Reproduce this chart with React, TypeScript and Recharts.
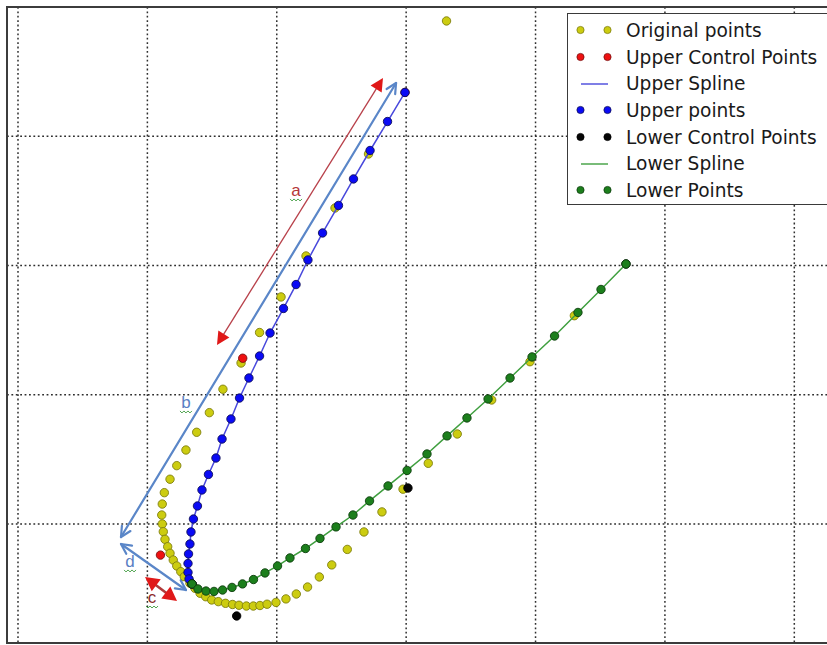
import {
  CartesianGrid,
  Legend,
  ReferenceArea,
  ReferenceDot,
  ReferenceLine,
  Scatter,
  ScatterChart,
  XAxis,
  YAxis,
} from 'recharts'

// one dotted grid cell = 1 unit
const xDomain: [number, number] = [-0.085, 6.5]
const yDomain: [number, number] = [-0.92, 4]
const xTicks = [0, 1, 2, 3, 4, 5, 6]
const yTicks = [0, 1, 2, 3, 4]

const originalPoints = [
  [3.312, 3.892], [2.709, 2.863], [2.45, 2.445], [2.226, 2.074], [2.033, 1.757],
  [1.867, 1.482], [1.724, 1.246], [1.584, 1.043], [1.479, 0.862], [1.381, 0.71],
  [1.298, 0.573], [1.227, 0.452], [1.175, 0.347], [1.131, 0.243], [1.115, 0.155],
  [1.111, 0.07], [1.115, 0.001], [1.123, -0.059], [1.136, -0.118], [1.157, -0.175],
  [1.175, -0.226], [1.2, -0.278], [1.227, -0.324], [1.258, -0.368], [1.285, -0.407],
  [1.329, -0.458], [1.368, -0.497], [1.407, -0.535], [1.451, -0.562], [1.497, -0.587],
  [1.548, -0.6], [1.604, -0.613], [1.658, -0.622], [1.708, -0.628], [1.765, -0.634],
  [1.819, -0.634], [1.87, -0.63], [1.925, -0.62], [1.994, -0.606], [2.071, -0.579],
  [2.151, -0.541], [2.238, -0.487], [2.329, -0.409], [2.425, -0.316], [2.545, -0.196],
  [2.674, -0.061], [2.813, 0.094], [2.976, 0.27], [3.171, 0.47], [3.395, 0.697],
  [3.661, 0.96], [3.957, 1.256], [4.3, 1.612],
]

const upperControlPoints = [
  [2.991, 3.339], [1.737, 1.283], [1.101, -0.24], [1.345, -0.463],
]

const upperPoints = [
  [2.991, 3.339], [2.856, 3.114], [2.721, 2.89], [2.593, 2.67], [2.477, 2.465],
  [2.354, 2.252], [2.241, 2.043], [2.149, 1.853], [2.052, 1.668], [1.948, 1.478],
  [1.867, 1.3], [1.785, 1.13], [1.712, 0.975], [1.646, 0.813], [1.577, 0.658],
  [1.53, 0.511], [1.472, 0.384], [1.422, 0.264], [1.387, 0.14], [1.356, 0.039],
  [1.337, -0.061], [1.329, -0.154], [1.318, -0.231], [1.314, -0.305], [1.314, -0.374],
  [1.322, -0.425], [1.345, -0.463],
]

const lowerControlPoints = [
  [1.345, -0.463], [1.69, -0.711], [3.014, 0.279], [4.699, 2.012],
]

const lowerPoints = [
  [1.345, -0.463], [1.391, -0.502], [1.453, -0.518], [1.515, -0.521], [1.581, -0.51],
  [1.654, -0.49], [1.735, -0.463], [1.82, -0.429], [1.909, -0.378], [2.006, -0.324],
  [2.102, -0.262], [2.222, -0.189], [2.334, -0.111], [2.458, -0.022], [2.589, 0.07],
  [2.717, 0.179], [2.86, 0.295], [3.007, 0.415], [3.161, 0.542], [3.316, 0.682],
  [3.47, 0.821], [3.633, 0.968], [3.803, 1.13], [3.973, 1.293], [4.147, 1.455],
  [4.328, 1.637], [4.506, 1.815], [4.699, 2.012],
]

// hand-drawn measurement arrows laid over the plot
const arrowNames = ['a', 'b', 'c', 'd']
const arrowStarts = [[1.538, 1.385], [0.796, -0.1], [0.982, -0.409], [0.796, -0.154]]
const arrowEnds = [[2.821, 3.451], [2.922, 3.412], [1.229, -0.595], [1.298, -0.51]]
const arrowLabelAt = [[2.149, 2.577], [1.298, 0.937], [1.036, -0.572], [0.866, -0.293]]

const toXY = (pts: number[][]) => pts.map(([x, y]) => ({ x, y }))

const arrowStyles = [
  { line: '#b8404a', width: 1.3, head: 'filled', headColor: '#e01818', len: 13, half: 6.5, text: '#b5383a' },
  { line: '#5a86c8', width: 2.2, head: 'open', headColor: '#5a86c8', len: 10, half: 5, text: '#5b7fc4' },
  { line: '#b03a3a', width: 2.6, head: 'filled', headColor: '#e01818', len: 14, half: 7.5, text: '#8b2a2a' },
  { line: '#5a86c8', width: 2.2, head: 'open', headColor: '#5a86c8', len: 10, half: 5, text: '#5b7fc4' },
]

const series = [
  { name: 'Original points', data: originalPoints, kind: 'dot', fill: '#cccc10', edge: '#7f7f10' },
  { name: 'Upper Control Points', data: upperControlPoints, kind: 'dot', fill: '#ee1111', edge: '#7a1010' },
  { name: 'Upper Spline', data: upperPoints, kind: 'line', fill: '#4848dc', edge: '#4848dc' },
  { name: 'Upper points', data: upperPoints, kind: 'dot', fill: '#0a0af5', edge: '#10105a' },
  { name: 'Lower Control Points', data: lowerControlPoints, kind: 'dot', fill: '#050505', edge: '#000' },
  { name: 'Lower Spline', data: lowerPoints, kind: 'line', fill: '#3f9f3f', edge: '#3f9f3f' },
  { name: 'Lower Points', data: lowerPoints, kind: 'dot', fill: '#1c7f1c', edge: '#0e3e0e' },
]

function arrowShape(style: (typeof arrowStyles)[number]) {
  return (p: any) => {
    const { x1, y1, x2, y2 } = p
    const len = Math.hypot(x2 - x1, y2 - y1) || 1
    const ux = (x2 - x1) / len
    const uy = (y2 - y1) / len
    const nx = -uy
    const ny = ux
    const tip = (tx: number, ty: number, dir: number) => {
      const bx = tx - dir * ux * style.len
      const by = ty - dir * uy * style.len
      return [
        [bx + nx * style.half, by + ny * style.half],
        [tx, ty],
        [bx - nx * style.half, by - ny * style.half],
      ]
    }
    const h1 = tip(x1, y1, -1)
    const h2 = tip(x2, y2, 1)
    const pts = (h: number[][]) => h.map((q) => q.join(',')).join(' ')
    if (style.head === 'filled') {
      const sx = x1 + ux * style.len * 0.8
      const sy = y1 + uy * style.len * 0.8
      const ex = x2 - ux * style.len * 0.8
      const ey = y2 - uy * style.len * 0.8
      return (
        <g>
          <line x1={sx} y1={sy} x2={ex} y2={ey} stroke={style.line} strokeWidth={style.width} />
          <polygon points={pts(h1)} fill={style.headColor} />
          <polygon points={pts(h2)} fill={style.headColor} />
        </g>
      )
    }
    return (
      <g fill="none" stroke={style.line} strokeWidth={style.width} strokeLinecap="round" strokeLinejoin="round">
        <line x1={x1} y1={y1} x2={x2} y2={y2} />
        <polyline points={pts(h1)} />
        <polyline points={pts(h2)} />
      </g>
    )
  }
}

function labelShape(text: string, color: string) {
  return (p: any) => {
    const { cx, cy } = p
    const w = `M${cx - 6},${cy + 8} l2,2 l2,-2 l2,2 l2,-2 l2,2 l2,-2`
    return (
      <g>
        <text x={cx} y={cy + 5} textAnchor="middle" fill={color} fontSize={17} fontFamily="'Liberation Sans', sans-serif">
          {text}
        </text>
        <path d={w} fill="none" stroke="#3a9a3a" strokeWidth={0.9} />
      </g>
    )
  }
}

function LegendBox() {
  return (
    <div
      style={{
        boxSizing: 'border-box',
        width: 262,
        height: 192,
        border: '1.5px solid #3a3a3a',
        background: '#fff',
        paddingTop: 3,
        fontFamily: "'DejaVu Sans', sans-serif",
        fontSize: 18.6,
        color: '#1a1a1a',
      }}
    >
      {series.map((s) => (
        <div key={s.name} style={{ height: 26.7, display: 'flex', alignItems: 'center', whiteSpace: 'nowrap' }}>
          <svg width={58} height={26} style={{ flex: 'none' }}>
            {s.kind === 'line' ? (
              <line x1={13} y1={13} x2={40} y2={13} stroke={s.fill} strokeWidth={1.4} />
            ) : (
              <>
                <circle cx={12.5} cy={13} r={3.6} fill={s.fill} stroke={s.edge} strokeWidth={0.8} />
                <circle cx={39.5} cy={13} r={3.6} fill={s.fill} stroke={s.edge} strokeWidth={0.8} />
              </>
            )}
          </svg>
          <span>{s.name}</span>
        </div>
      ))}
    </div>
  )
}

export default function App() {
  return (
    <div
      style={{
        position: 'absolute',
        left: 0,
        top: 0,
        width: 827,
        height: 645,
        overflow: 'hidden',
        background: '#fff',
      }}
    >
      <ScatterChart width={860} height={645} margin={{ top: 7, right: 1, bottom: 2, left: 7 }}>
        <XAxis type="number" dataKey="x" domain={xDomain} ticks={xTicks} allowDataOverflow hide />
        <YAxis type="number" dataKey="y" domain={yDomain} ticks={yTicks} allowDataOverflow hide />
        <CartesianGrid stroke="#2e2e2e" strokeWidth={1.5} strokeDasharray="1.8 2.6" />
        <ReferenceArea
          x1={xDomain[0]}
          x2={xDomain[1]}
          y1={yDomain[0]}
          y2={yDomain[1]}
          fill="none"
          stroke="#3c3c3c"
          strokeWidth={2}
          ifOverflow="visible"
        />
        {series.map((s) =>
          s.kind === 'line' ? (
            <Scatter
              key={s.name}
              name={s.name}
              data={toXY(s.data)}
              line={{ stroke: s.fill, strokeWidth: 1.5 }}
              lineType="joint"
              shape={() => <g />}
              legendType="none"
              isAnimationActive={false}
            />
          ) : (
            <Scatter
              key={s.name}
              name={s.name}
              data={toXY(s.data)}
              shape={(p: any) => (
                <circle cx={p.cx} cy={p.cy} r={4.2} fill={s.fill} stroke={s.edge} strokeWidth={0.9} />
              )}
              legendType="none"
              isAnimationActive={false}
            />
          ),
        )}
        {arrowNames.map((n, i) => (
          <ReferenceLine
            key={`arrow-${n}`}
            segment={[
              { x: arrowStarts[i][0], y: arrowStarts[i][1] },
              { x: arrowEnds[i][0], y: arrowEnds[i][1] },
            ]}
            shape={arrowShape(arrowStyles[i])}
          />
        ))}
        {arrowNames.map((n, i) => (
          <ReferenceDot
            key={`label-${n}`}
            x={arrowLabelAt[i][0]}
            y={arrowLabelAt[i][1]}
            r={0}
            shape={labelShape(n, arrowStyles[i].text)}
          />
        ))}
        <Legend
          layout="vertical"
          align="center"
          verticalAlign="middle"
          wrapperStyle={{ left: 567, top: 13, width: 262, height: 192 }}
          content={() => <LegendBox />}
        />
      </ScatterChart>
    </div>
  )
}
